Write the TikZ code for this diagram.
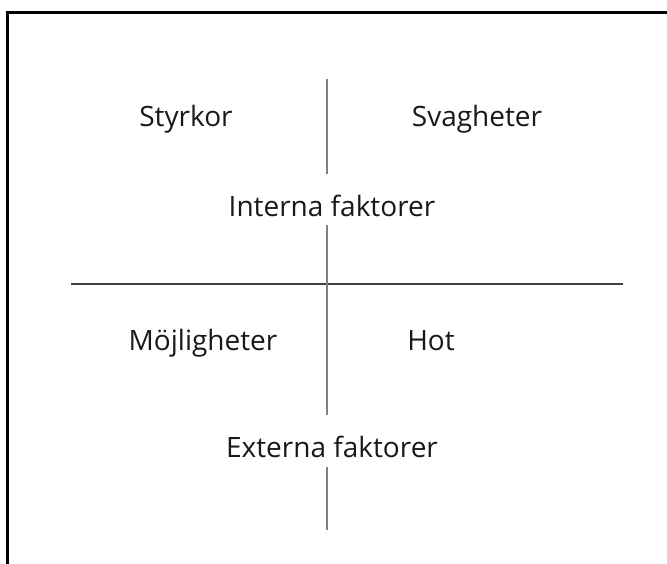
\documentclass[tikz,border=0pt]{standalone}
\usepackage{fontspec}
\setmainfont{Open Sans}
\begin{document}
\begin{tikzpicture}[x=1pt,y=-1pt,
  lbl/.style={anchor=base,inner sep=0pt,font=\fontsize{28}{33}\selectfont,text=black!90},
  vline/.style={draw=black!50,line width=1.6pt},
  hline/.style={draw=black!75,line width=1.4pt}]
  \useasboundingbox (0,0) rectangle (667,563);
  \begin{scope}
    \clip (0,0) rectangle (667,563);
    % outer frame, running past the right and bottom edges
    \draw[line width=3pt] (7.5,12) rectangle (690,590);
  \end{scope}
  % quadrant labels
  \node[lbl] (styrkor) at (186,126) {Styrkor};
  \node[lbl] (svagheter) at (477,126) {Svagheter};
  \node[lbl] (interna) at (332,216) {Interna faktorer};
  \node[lbl] (mojligheter) at (203,350) {Möjligheter};
  \node[lbl] (hot) at (431,350) {Hot};
  \node[lbl] (externa) at (332,457) {Externa faktorer};
  % axis end points
  \coordinate (vtop) at (327,79);
  \coordinate (vtopend) at (327,174);
  \coordinate (vmid) at (327,225);
  \coordinate (vmidend) at (327,415);
  \coordinate (vlow) at (327,467);
  \coordinate (vbot) at (327,530);
  \coordinate (hleft) at (71,284);
  \coordinate (hright) at (623,284);
  \draw[hline] (hleft) -- (hright);
  \draw[vline] (vtop) -- (vtopend);
  \draw[vline] (vmid) -- (vmidend);
  \draw[vline] (vlow) -- (vbot);
\end{tikzpicture}
\end{document}
